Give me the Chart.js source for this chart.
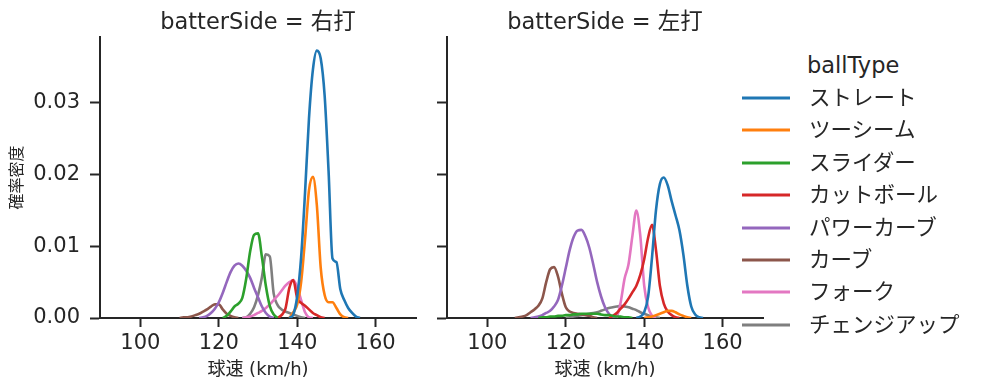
<!DOCTYPE html>
<html>
<head>
<meta charset="utf-8">
<script src="https://cdn.jsdelivr.net/npm/chart.js@4"></script>
<style>
  body { margin: 0; background: #fff; font-family: "DejaVu Sans", "Noto Sans CJK JP", sans-serif; color: #262626; }
  #wrap { position: relative; width: 987px; height: 391px; overflow: hidden; }
  canvas { position: absolute; top: 0; }
  .lbl { position: absolute; white-space: nowrap; transform: translateY(-50%); line-height: 1; }
  .panel-title { font-size: 22.5px; transform: translate(-50%, -50%); }
  .leg-line { position: absolute; width: 48px; height: 3px; transform: translateY(-50%); }
</style>
</head>
<body>
<div id="wrap">
  <canvas id="leftChart" width="430" height="391" style="left:0"></canvas>
  <canvas id="rightChart" width="350" height="391" style="left:430px"></canvas>
</div>
<script>
const ballTypes = ["ストレート", "ツーシーム", "スライダー", "カットボール", "パワーカーブ", "カーブ", "フォーク", "チェンジアップ"];
const colors = ["#1f77b4", "#ff7f0e", "#2ca02c", "#d62728", "#9467bd", "#8c564b", "#e377c2", "#7f7f7f"];
const sides = ["右打", "左打"];
const xTicks = [100, 120, 140, 160];
const yTicks = [0, 0.01, 0.02, 0.03];

// density curves, one value per km/h, first speed in the *Start arrays
const rightStart = [138, 138, 121, 135, 115, 110, 126, 126];
const rStraight = [0, 0.0005, 0.0030, 0.0085, 0.0175, 0.0278, 0.0346, 0.0373, 0.0362, 0.0310, 0.0205, 0.0083, 0.0078, 0.0040, 0.0025, 0.0014, 0.0007, 0.0002, 0];
const rTwoSeam = [0, 0.0008, 0.0019, 0.0050, 0.0110, 0.0178, 0.0197, 0.0158, 0.0070, 0.0032, 0.0022, 0.0022, 0.0014, 0.0005, 0.0001, 0];
const rSlider = [0, 0.0003, 0.0009, 0.0016, 0.0020, 0.0028, 0.0055, 0.0093, 0.0116, 0.0118, 0.0085, 0.0045, 0.0017, 0.0005, 0];
const rCutter = [0, 0.0004, 0.0013, 0.0042, 0.0053, 0.0028, 0.0021, 0.0017, 0.0012, 0.0007, 0.0004, 0.0001, 0];
const rPowerCurve = [0, 0.0001, 0.0003, 0.0007, 0.0013, 0.0022, 0.0035, 0.0050, 0.0064, 0.0073, 0.0076, 0.0073, 0.0066, 0.0056, 0.0042, 0.0029, 0.0016, 0.0007, 0.0002, 0];
const rCurve = [0, 0.0001, 0.0001, 0.0002, 0.0004, 0.0006, 0.0009, 0.0012, 0.0016, 0.0019, 0.0019, 0.0012, 0.0006, 0.0003, 0.0001, 0];
const rFork = [0, 0.0001, 0.0002, 0.0004, 0.0007, 0.0010, 0.0014, 0.0019, 0.0025, 0.0031, 0.0038, 0.0045, 0.0050, 0.0053, 0.0043, 0.0025, 0.0008, 0.0001, 0];
const rChangeup = [0, 0.0001, 0.0006, 0.0015, 0.0032, 0.0057, 0.0089, 0.0086, 0.0034, 0.0018, 0.0012, 0.0009, 0.0007, 0.0005, 0.0003, 0.0001, 0];

const leftStart = [138, 140, 113, 131, 111, 107, 133, 120];
const lStraight = [0, 0.0002, 0.0008, 0.0030, 0.0085, 0.0150, 0.0187, 0.0196, 0.0185, 0.0163, 0.0143, 0.0122, 0.0088, 0.0045, 0.0016, 0.0005, 0.0001, 0];
const lTwoSeam = [0, 0.0001, 0.0002, 0.0004, 0.0006, 0.0008, 0.0010, 0.0010, 0.0008, 0.0005, 0.0003, 0.0001, 0];
const lSlider = [0, 0.0001, 0.0001, 0.0002, 0.0002, 0.0003, 0.0003, 0.0004, 0.0004, 0.0005, 0.0005, 0.0006, 0.0006, 0.0006, 0.0006, 0.0006, 0.0005, 0.0004, 0.0004, 0.0003, 0.0002, 0.0002, 0.0001, 0.0001, 0];
const lCutter = [0, 0.0003, 0.0007, 0.0013, 0.0019, 0.0027, 0.0036, 0.0045, 0.0060, 0.0082, 0.0112, 0.0130, 0.0095, 0.0045, 0.0020, 0.0009, 0.0004, 0.0001, 0];
const lPowerCurve = [0, 0.0001, 0.0002, 0.0004, 0.0007, 0.0010, 0.0016, 0.0025, 0.0045, 0.0070, 0.0095, 0.0113, 0.0122, 0.0123, 0.0114, 0.0098, 0.0075, 0.0050, 0.0030, 0.0015, 0.0006, 0.0001, 0];
const lCurve = [0, 0.0001, 0.0002, 0.0004, 0.0008, 0.0012, 0.0017, 0.0027, 0.0050, 0.0068, 0.0071, 0.0058, 0.0034, 0.0015, 0.0009, 0.0007, 0.0006, 0.0005, 0.0004, 0.0003, 0.0001, 0];
const lFork = [0, 0.0022, 0.0055, 0.0075, 0.0115, 0.0150, 0.0115, 0.0045, 0.0015, 0.0003, 0];
const lChangeup = [0, 0.0001, 0.0002, 0.0003, 0.0004, 0.0005, 0.0006, 0.0007, 0.0008, 0.0010, 0.0012, 0.0014, 0.0015, 0.0016, 0.0017, 0.0016, 0.0015, 0.0013, 0.0011, 0.0008, 0.0006, 0.0004, 0.0002, 0.0001, 0];

const rightSeries = [rStraight, rTwoSeam, rSlider, rCutter, rPowerCurve, rCurve, rFork, rChangeup];
const leftSeries = [lStraight, lTwoSeam, lSlider, lCutter, lPowerCurve, lCurve, lFork, lChangeup];

const font = "'DejaVu Sans', 'Noto Sans CJK JP', sans-serif";
const ink = "#262626";

const makeDatasets = function(series, starts) {
  return series.map((vals, i) => ({
    label: ballTypes[i],
    data: vals.map((v, j) => ({ x: starts[i] + j, y: v })),
    borderColor: colors[i],
    borderWidth: 2.6,
    pointRadius: 0,
    fill: false,
    cubicInterpolationMode: "monotone"
  }));
};

const makeChart = function(id, datasets, showY, yWidth, padRight) {
  return new Chart(document.getElementById(id), {
    type: "line",
    data: { datasets: datasets },
    options: {
      responsive: false,
      animation: false,
      devicePixelRatio: 1,
      layout: { padding: { left: 0, right: padRight, top: 37, bottom: 0 } },
      plugins: { legend: { display: false }, tooltip: { enabled: false } },
      scales: {
        x: {
          type: "linear", min: 89.7, max: 170.3,
          afterBuildTicks: s => { s.ticks = xTicks.map(v => ({ value: v })); },
          afterFit: s => { s.height = 73; },
          border: { color: ink, width: 2 },
          grid: { drawOnChartArea: false, drawTicks: true, tickLength: 9, tickColor: ink, tickWidth: 2 },
          ticks: { color: ink, font: { family: font, size: 21 }, padding: 4, maxRotation: 0 },
          title: { display: true, text: "球速 (km/h)", color: ink, font: { family: font, size: 18 }, padding: { top: 0, bottom: 10 } }
        },
        y: {
          min: 0, max: 0.0392,
          afterBuildTicks: s => { s.ticks = yTicks.map(v => ({ value: v })); },
          afterFit: s => { s.width = yWidth; },
          border: { color: ink, width: 2 },
          grid: { drawOnChartArea: false, drawTicks: true, tickLength: 10, tickColor: ink, tickWidth: 2 },
          ticks: { color: ink, font: { family: font, size: 21 }, padding: 10,
            callback: v => showY ? v.toFixed(2) : "" },
          title: { display: showY, text: "確率密度", color: ink, font: { family: font, size: 16 }, padding: { top: 8, bottom: 0 } }
        }
      }
    }
  });
};

const leftChart = makeChart("leftChart", makeDatasets(rightSeries, rightStart), true, 100, 14);
const rightChart = makeChart("rightChart", makeDatasets(leftSeries, leftStart), false, 17, 17);

// panel titles and legend
const wrap = document.getElementById("wrap");
const addLabel = function(text, x, y, cls, size) {
  const el = document.createElement("div");
  el.className = "lbl " + (cls || "");
  el.textContent = text;
  el.style.left = x + "px";
  el.style.top = y + "px";
  if (size) el.style.fontSize = size + "px";
  wrap.appendChild(el);
};
addLabel("batterSide = " + sides[0], 258, 21, "panel-title");
addLabel("batterSide = " + sides[1], 605, 21, "panel-title");
addLabel("ballType", 807, 65, "", 22.5);
ballTypes.forEach((name, i) => {
  const y = 98 + i * 32.4;
  const line = document.createElement("div");
  line.className = "leg-line";
  line.style.left = "742px";
  line.style.top = y + "px";
  line.style.background = colors[i];
  wrap.appendChild(line);
  addLabel(name, 809, y, "", 21.5);
});
</script>
</body>
</html>
